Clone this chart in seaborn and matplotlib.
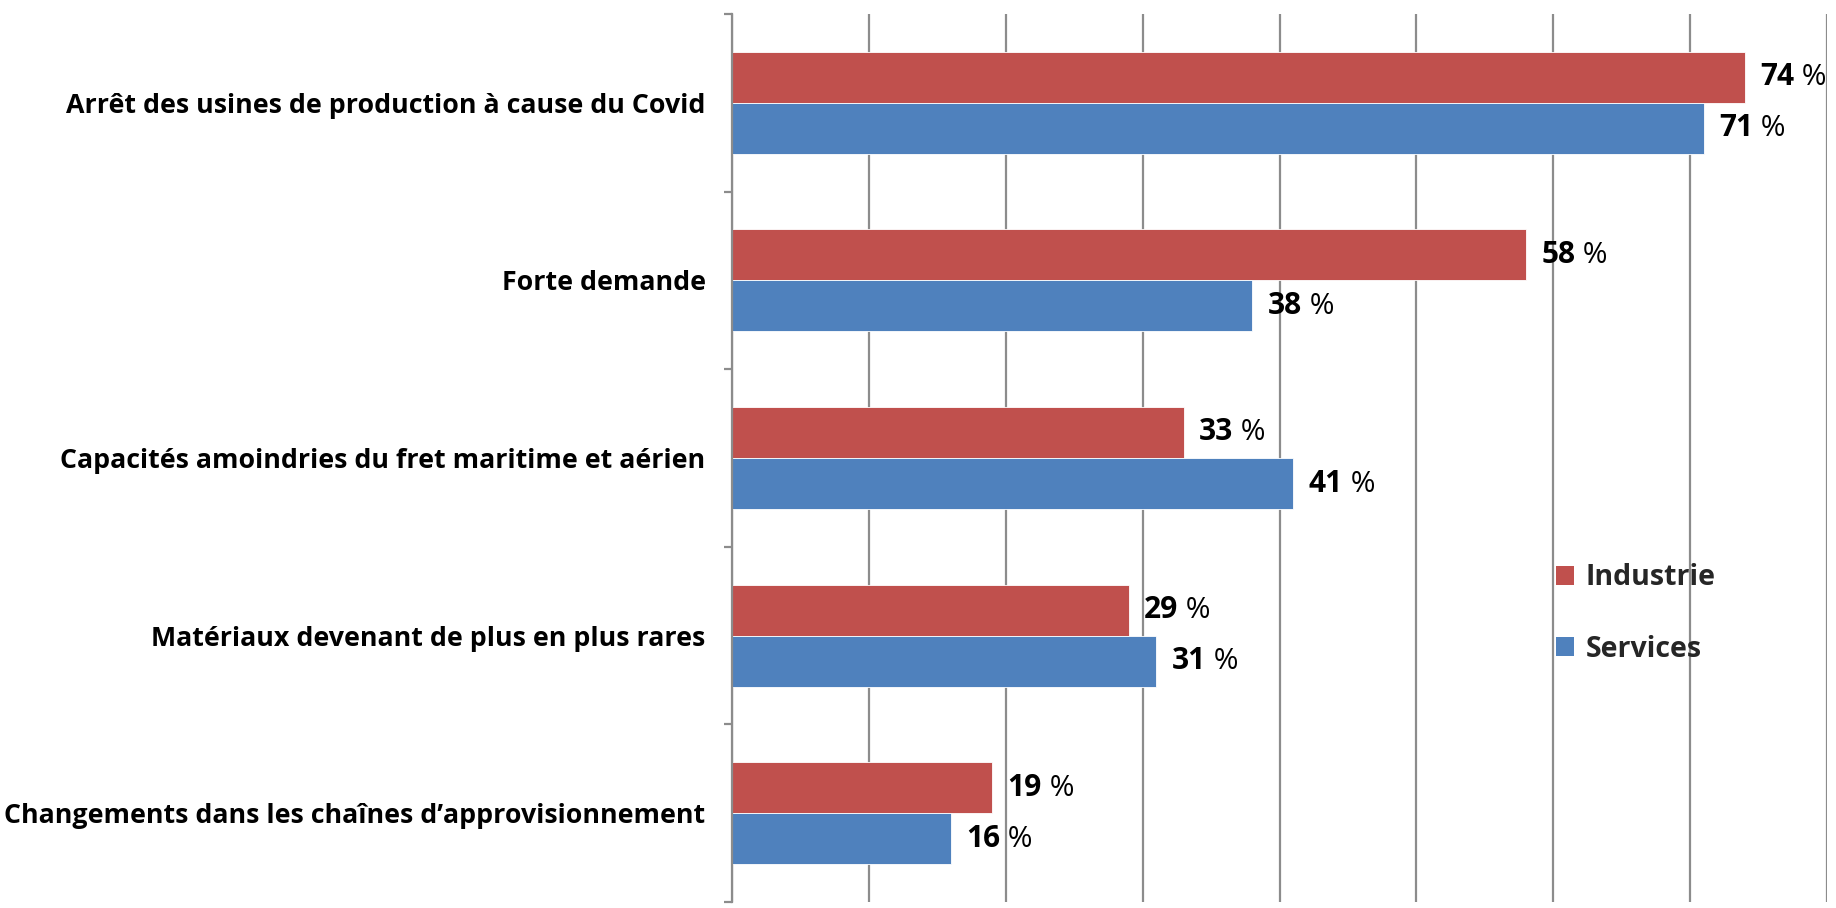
import matplotlib
matplotlib.use("Agg")
import matplotlib.pyplot as plt
import seaborn as sns
import pandas as pd
from matplotlib.patches import Patch

categories = [
    "Arrêt des usines de production à cause du Covid",
    "Forte demande",
    "Capacités amoindries du fret maritime et aérien",
    "Matériaux devenant de plus en plus rares",
    "Changements dans les chaînes d’approvisionnement",
]
industrie = [74, 58, 33, 29, 19]
services = [71, 38, 41, 31, 16]
series_names = ["Industrie", "Services"]
colors = ["#C0504D", "#4F81BD"]

sns.set_theme(style="white")
plt.rcParams["font.family"] = ["Open Sans", "DejaVu Sans"]

df = pd.DataFrame({
    "cat": categories * 2,
    "val": industrie + services,
    "serie": [series_names[0]] * len(categories) + [series_names[1]] * len(categories),
})

fig = plt.figure(figsize=(18.36, 9.08), dpi=100)
ax = fig.add_axes([732 / 1836, 6 / 908, (1827 - 732) / 1836, (894 - 6) / 908])

sns.barplot(data=df, y="cat", x="val", hue="serie", orient="h", palette=colors,
            order=categories, hue_order=series_names, width=0.575, ax=ax,
            edgecolor="#FFFFFF", linewidth=0.6, legend=False, saturation=1)

ax.set_xlim(0, 80)
ax.set_ylim(4.5, -0.5)
ax.set_xticks(range(0, 81, 10))
ax.set_xticklabels([])
ax.xaxis.grid(True, color="#8C8C8C", linewidth=1.6)
ax.set_axisbelow(True)
ax.tick_params(axis="x", length=0)
for s in ["top", "right", "bottom"]:
    ax.spines[s].set_visible(False)
ax.spines["left"].set_color("#8C8C8C")
ax.spines["left"].set_linewidth(1.6)
ax.set_xlabel("")
ax.set_ylabel("")

ax.set_yticks(range(len(categories)))
ax.set_yticklabels(categories, fontsize=19.3, fontweight="bold", color="black")
ax.tick_params(axis="y", which="major", length=0, pad=19)
ax.set_yticks([i - 0.5 for i in range(len(categories) + 1)], minor=True)
ax.tick_params(axis="y", which="minor", length=6, width=1.6, color="#8C8C8C", direction="out", left=True)

# value labels
for cont in ax.containers:
    for bar in cont:
        w = bar.get_width()
        yc = bar.get_y() + bar.get_height() / 2
        t = ax.annotate(f"{w:.0f}", xy=(w, yc), xytext=(11, 0), textcoords="offset points",
                        ha="left", va="center", fontsize=21.5, fontweight="bold", color="black")
        ax.annotate(" %", xy=(1, 0), xycoords=t, ha="left", va="bottom",
                    fontsize=21.5, fontweight="normal", color="black")

handles = [Patch(facecolor=c, edgecolor="none") for c in colors]
ax.legend(handles, series_names, loc="center left", bbox_to_anchor=(0.729, 0.325),
          frameon=False, handlelength=0.65, handleheight=0.65, handletextpad=0.4,
          labelspacing=1.49, prop={"weight": "bold", "size": 20.5})

fig.savefig("out.png", dpi=100, facecolor="white")
